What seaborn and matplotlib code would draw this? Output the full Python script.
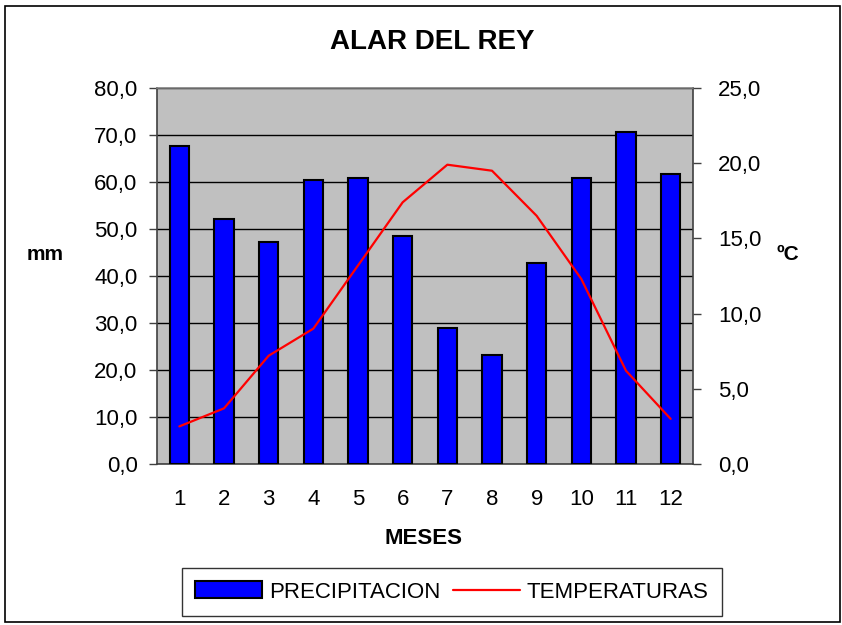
import numpy as np
import pandas as pd
import matplotlib
matplotlib.use("Agg")
import matplotlib.pyplot as plt
import seaborn as sns
from matplotlib.ticker import FuncFormatter, MultipleLocator
from matplotlib.patches import Rectangle

# Data
meses = [1, 2, 3, 4, 5, 6, 7, 8, 9, 10, 11, 12]
precipitacion = [67.7, 52.1, 47.2, 60.5, 60.9, 48.6, 29.0, 23.1, 42.7, 60.9, 70.7, 61.8]
temperaturas = [2.5, 3.7, 7.2, 9.0, 13.2, 17.4, 19.9, 19.5, 16.5, 12.3, 6.2, 3.0]

sns.set_style("white")
plt.rcParams['font.family'] = ['Liberation Sans', 'DejaVu Sans']
plt.rcParams['text.color'] = 'black'
plt.rcParams['xtick.color'] = 'black'
plt.rcParams['ytick.color'] = 'black'
plt.rcParams['axes.labelcolor'] = 'black'

df = pd.DataFrame({"mes": meses, "pp": precipitacion, "t": temperaturas})

fig = plt.figure(figsize=(8.42, 6.25), dpi=100)
ax = fig.add_axes([157 / 842, 1 - 464 / 625, (693 - 157) / 842, (464 - 88) / 625])
ax.set_facecolor("#C0C0C0")

sns.barplot(data=df, x="mes", y="pp", ax=ax, color="#0000FF", saturation=1,
            width=0.43, edgecolor="black", linewidth=1.5, zorder=3)
ax.set_ylim(0, 80)
ax.set_xlim(-0.5, 11.5)
ax.yaxis.set_major_locator(MultipleLocator(10))
comma = FuncFormatter(lambda v, p: f"{v:.1f}".replace(".", ","))
ax.yaxis.set_major_formatter(comma)
ax.grid(axis="y", color="black", linewidth=1, zorder=1)
ax.set_axisbelow(True)
ax.set_xlabel("")
ax.set_ylabel("")

# x ticks at category borders, labels at the centres
ax.set_xticks(np.arange(-0.5, 12, 1), minor=True)
ax.tick_params(axis="x", which="minor", direction="inout", length=12, width=1, color="#404040")
ax.tick_params(axis="x", which="major", length=0, pad=18, labelsize=16, labelcolor="black")
ax.tick_params(axis="y", direction="out", length=6, width=1, color="#404040", pad=8,
               labelsize=16, labelcolor="black", left=True)

for s in ["left", "bottom", "right"]:
    ax.spines[s].set_color("#404040")
    ax.spines[s].set_linewidth(1.2)
ax.spines["top"].set_color("#808080")
ax.spines["top"].set_linewidth(1.2)

ax2 = ax.twinx()
sns.lineplot(x=np.arange(12), y=temperaturas, ax=ax2, color="#FF0000", linewidth=1.6)
ax2.set_ylim(0, 25)
ax2.yaxis.set_major_locator(MultipleLocator(5))
ax2.yaxis.set_major_formatter(comma)
ax2.tick_params(axis="y", direction="out", length=6, width=1, color="#404040", pad=12,
                labelsize=16, labelcolor="black", right=True)
for s in ax2.spines.values():
    s.set_visible(False)
ax2.set_xlim(-0.5, 11.5)

fig.text(432 / 842, 1 - 42 / 625, "ALAR DEL REY", ha="center", va="center", fontsize=20,
         fontweight="bold", color="black")
fig.text(45 / 842, 1 - 255 / 625, "mm", ha="center", va="center", fontsize=15,
         fontweight="bold", color="black")
fig.text(788 / 842, 1 - 255 / 625, "ºC", ha="center", va="center", fontsize=15,
         fontweight="bold", color="black")
fig.text(424 / 842, 1 - 538 / 625, "MESES", ha="center", va="center", fontsize=16,
         fontweight="bold", color="black")

handles = [Rectangle((0, 0), 1, 1, facecolor="#0000FF", edgecolor="black", linewidth=1.5),
           plt.Line2D([], [], color="#FF0000", linewidth=1.6)]
leg = fig.legend(handles, ["PRECIPITACION", "TEMPERATURAS"], loc="center", ncol=2,
                 bbox_to_anchor=(452 / 842, 1 - 592 / 625), fontsize=16, frameon=True,
                 fancybox=False, edgecolor="black", handlelength=3, handleheight=0.8,
                 columnspacing=0.6, handletextpad=0.3, borderpad=0.6)
leg.get_frame().set_linewidth(1)
for t in leg.get_texts():
    t.set_color("black")

fig.patches.append(Rectangle((5 / 842, 3 / 625), 835 / 842, 616 / 625, transform=fig.transFigure,
                             fill=False, edgecolor="black", linewidth=1.2))

fig.savefig("out.png", dpi=100)
